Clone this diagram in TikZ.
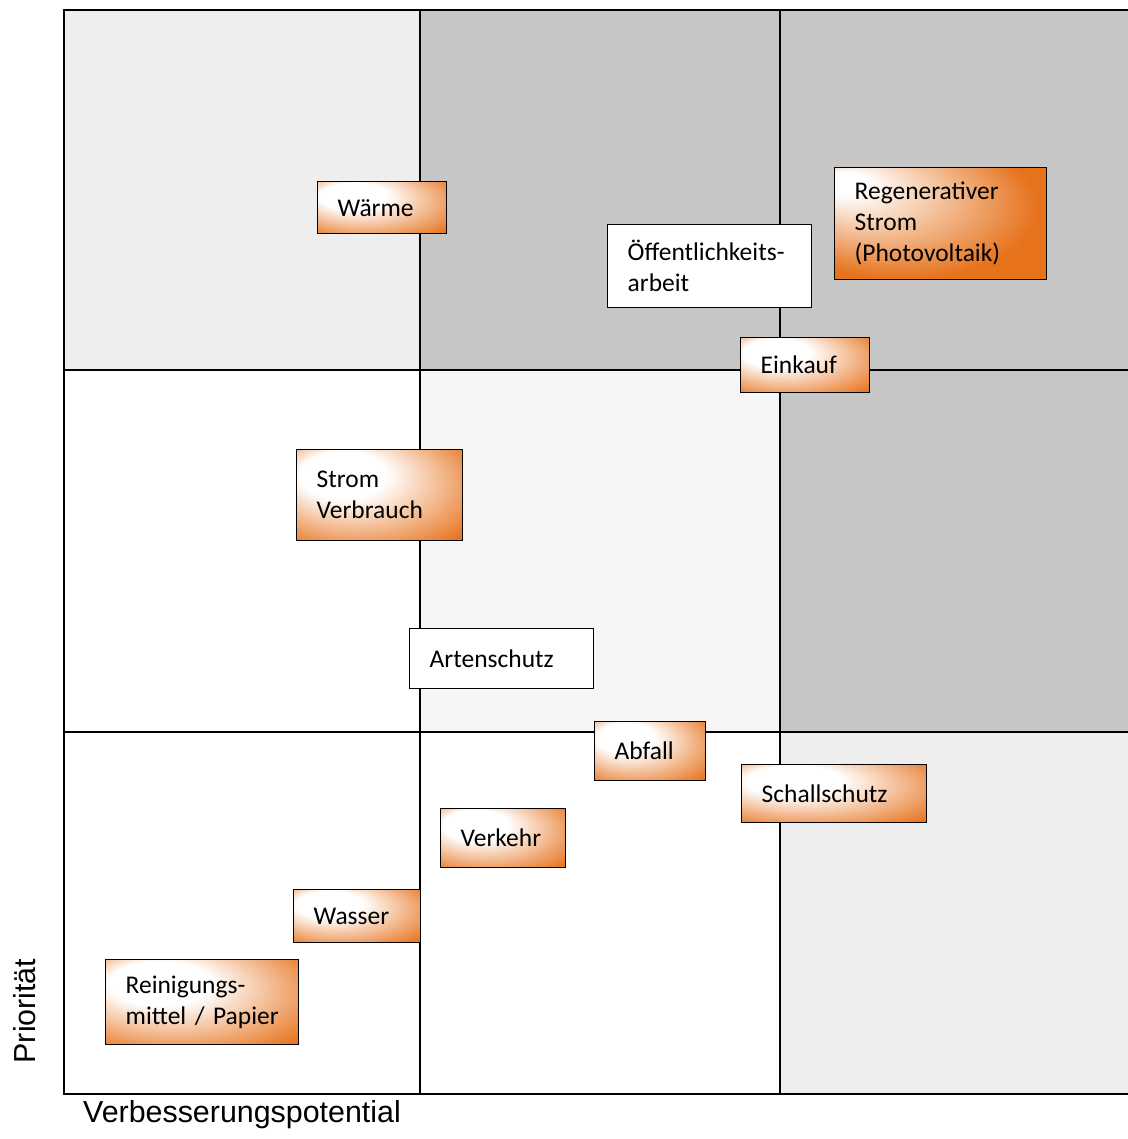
\documentclass[tikz,border=0pt]{standalone}
\usepackage{fontspec}
\setmainfont{Carlito}
\newfontfamily\axisfont{Liberation Sans}

\definecolor{boxorange}{RGB}{230,114,28}
\definecolor{darkcell}{RGB}{198,198,198}
\definecolor{lightcell}{RGB}{238,238,238}
\definecolor{palecell}{RGB}{246,246,246}

\pgfdeclareradialshading{boxglow}{\pgfpoint{-15bp}{15bp}}{color(0bp)=(white); color(13bp)=(white); color(39bp)=(boxorange); color(50bp)=(boxorange)}
\pgfdeclareradialshading{boxglowstrong}{\pgfpoint{-25bp}{20bp}}{color(0bp)=(white); color(5bp)=(white); color(32bp)=(boxorange); color(50bp)=(boxorange)}

\begin{document}
\begin{tikzpicture}[x=0.02cm, y=-0.02cm,
    basebox/.style={draw, line width=0.8pt, anchor=north west, align=left, inner xsep=0.4cm, font=\fontsize{14.5}{17.6}\selectfont},
    glowbox/.style={basebox, shading=boxglow},
    plainbox/.style={basebox, fill=white},
    gridline/.style={line width=0.8pt},
    axislabel/.style={font=\axisfont\fontsize{17.3}{20}\selectfont}
]
\useasboundingbox (0,0) rectangle (1128,1139);

% Cells
\fill[lightcell] (64,10) rectangle (420,370);
\fill[darkcell] (420,10) rectangle (1128,370);
\fill[palecell] (420,370) rectangle (780,732);
\fill[darkcell] (780,370) rectangle (1128,732);
\fill[lightcell] (780,732) rectangle (1128,1094);

% Grid
\draw[gridline] (1128,10) -- (64,10) -- (64,1094) -- (1128,1094);
\draw[gridline] (420,10) -- (420,1094);
\draw[gridline] (780,10) -- (780,1094);
\draw[gridline] (64,370) -- (1128,370);
\draw[gridline] (64,732) -- (1128,732);

% Boxes
\node[glowbox, text width=1.78cm, minimum height=1.04cm] (waerme) at (317,181) {Wärme};
\node[plainbox, text width=3.28cm, minimum height=1.66cm] (oeff) at (607,224) {Öffentlichkeits-\\arbeit};
\node[glowbox, shading=boxglowstrong, text width=3.44cm, minimum height=2.24cm] (regstrom) at (834,167) {Regenerativer\\Strom\\(Photovoltaik)};
\node[glowbox, text width=1.78cm, minimum height=1.10cm] (einkauf) at (740,337) {Einkauf};
\node[glowbox, text width=2.52cm, minimum height=1.82cm] (verbrauch) at (296,449) {Strom\\Verbrauch};
\node[plainbox, text width=2.88cm, minimum height=1.20cm] (artenschutz) at (409,628) {Artenschutz};
\node[glowbox, text width=1.42cm, minimum height=1.18cm] (abfall) at (594,721) {Abfall};
\node[glowbox, text width=2.90cm, minimum height=1.16cm] (schallschutz) at (741,764) {Schallschutz};
\node[glowbox, text width=1.70cm, minimum height=1.18cm] (verkehr) at (440,808) {Verkehr};
\node[glowbox, text width=1.74cm, minimum height=1.06cm] (wasser) at (293,889) {Wasser};
\node[glowbox, text width=3.06cm, minimum height=1.70cm] (reinigung) at (105,959) {Reinigungs-\\\mbox{mittel / Papier}};

% Axes
\node[axislabel] (xlabel) at (242,1115) {Verbesserungspotential};
\node[axislabel, rotate=90] (ylabel) at (25,1011) {Priorität};

\end{tikzpicture}
\end{document}
